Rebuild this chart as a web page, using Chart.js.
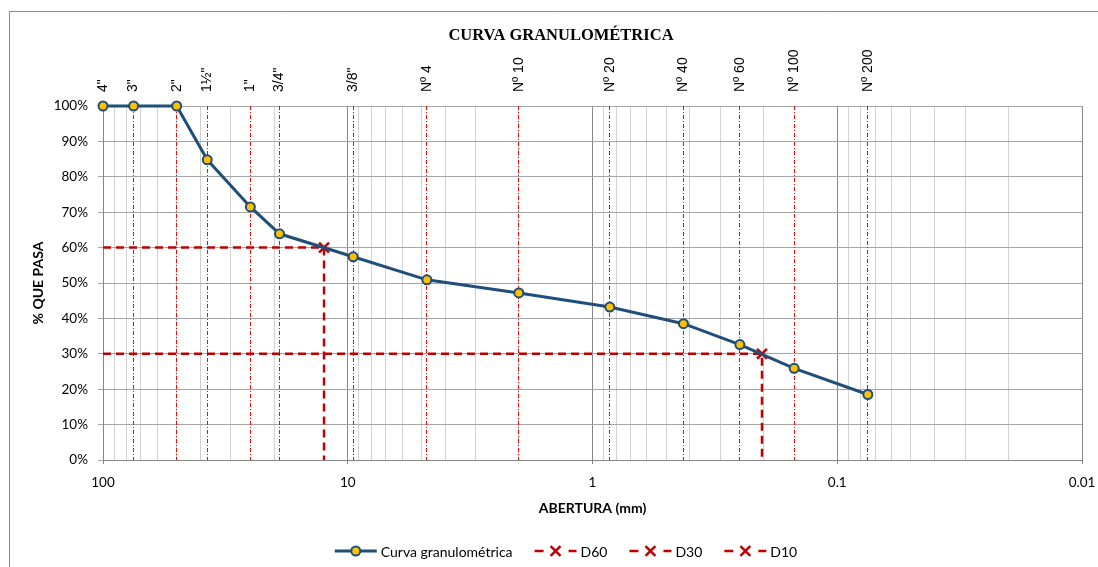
<!DOCTYPE html>
<html>
<head>
<meta charset="utf-8">
<script src="https://cdn.jsdelivr.net/npm/chart.js@4.4.1/dist/chart.umd.min.js"></script>
<style>
  body { margin: 0; background: #fff; }
</style>
</head>
<body>
<canvas id="chart" width="1098" height="567"></canvas>
<script>
const chartTitle = 'CURVA GRANULOMÉTRICA'

// sieves (top axis) and the grading curve
const sieveLabels = ['4"', '3"', '2"', '1½"', '1"', '3/4"', '3/8"', 'Nº 4', 'Nº 10', 'Nº 20', 'Nº 40', 'Nº 60', 'Nº 100', 'Nº 200']
const sieveOpenings = [100, 75, 50, 37.5, 25, 19, 9.5, 4.75, 2.0, 0.85, 0.425, 0.25, 0.15, 0.075]
const percentPassing = [100, 100, 100, 84.8, 71.5, 63.9, 57.4, 50.9, 47.2, 43.2, 38.5, 32.6, 25.9, 18.5]

// D60 / D30 / D10 guide lines
const d60X = [100, 12.5, 12.5]
const d60Y = [60, 60, 0]
const d30X = [100, 0.203, 0.203]
const d30Y = [30, 30, 0]
const d10X = []
const d10Y = []

// axis ticks
const xTickValues = [100, 10, 1, 0.1, 0.01]
const yTickValues = [0, 10, 20, 30, 40, 50, 60, 70, 80, 90, 100]

const blue = '#1F4E79'
const red = '#C00000'
const orange = '#FFC000'

const toXY = (xs, ys) => xs.map((x, i) => ({ x: x, y: ys[i] }))
const isDecade = v => xTickValues.some(t => Math.abs(t - v) / t < 1e-6)

// minor grid at 1..9 x 10^n
let gridValues = []
for (let e = -2; e <= 1; e++) {
    for (let k = 1; k <= 9; k++) gridValues.push(k * Math.pow(10, e))
}
gridValues.push(100)

function guideLine(label, xs, ys) {
    return {
        label: label,
        data: toXY(xs, ys),
        borderColor: red,
        borderWidth: 2.5,
        borderDash: [8, 5],
        pointStyle: 'crossRot',
        pointRadius: [0, 7, 0],
        pointBorderWidth: 2.5,
        pointBorderColor: red,
        pointBackgroundColor: red
    }
}

const frame = {
    id: 'frame',
    afterDraw(chart) {
        const ctx = chart.ctx
        ctx.save()

        // outer border of the chart box
        ctx.strokeStyle = '#8a8a8a'
        ctx.lineWidth = 1
        ctx.beginPath()
        ctx.moveTo(9.5, chart.height)
        ctx.lineTo(9.5, 11.5)
        ctx.lineTo(chart.width, 11.5)
        ctx.stroke()

        // title
        ctx.fillStyle = '#000'
        ctx.font = 'bold 16.5px "Liberation Serif"'
        ctx.textAlign = 'center'
        ctx.textBaseline = 'middle'
        ctx.fillText(chartTitle, 561, 36)

        // legend (line + marker like the spreadsheet)
        ctx.font = '14px Lato'
        ctx.textAlign = 'left'
        const sym = 42, gap = 22, y = 551
        const items = chart.data.datasets.map(ds => ({ ds: ds, w: sym + 4 + ctx.measureText(ds.label).width }))
        const total = items.reduce((a, it) => a + it.w, 0) + gap * (items.length - 1)
        let x = 566 - total / 2
        items.forEach(({ ds, w }) => {
            ctx.strokeStyle = ds.borderColor
            ctx.lineWidth = ds.borderWidth
            ctx.setLineDash([])
            ctx.beginPath()
            if (ds.borderDash) {
                ctx.moveTo(x, y); ctx.lineTo(x + 9, y)
                ctx.moveTo(x + 34, y); ctx.lineTo(x + 42, y)
            } else {
                ctx.moveTo(x, y); ctx.lineTo(x + sym, y)
            }
            ctx.stroke()
            const r = Array.isArray(ds.pointRadius) ? Math.max(...ds.pointRadius) : ds.pointRadius
            ctx.fillStyle = ds.pointBackgroundColor
            ctx.strokeStyle = ds.pointBorderColor
            ctx.lineWidth = ds.pointBorderWidth
            Chart.helpers.drawPoint(ctx, { pointStyle: ds.pointStyle || 'circle', rotation: 0, radius: r, borderWidth: ds.pointBorderWidth }, x + 21, y)
            ctx.fillStyle = '#000'
            ctx.fillText(ds.label, x + sym + 4, y + 1)
            x += w + gap
        })
        ctx.restore()
    }
}

new Chart(document.getElementById('chart'), {
    type: 'line',
    data: {
        datasets: [
            {
                label: 'Curva granulométrica',
                data: toXY(sieveOpenings, percentPassing),
                clip: false,
                borderColor: blue,
                borderWidth: 3,
                pointStyle: 'circle',
                pointRadius: 4.5,
                pointBorderWidth: 2,
                pointBackgroundColor: orange,
                pointBorderColor: blue
            },
            guideLine('D60', d60X, d60Y),
            guideLine('D30', d30X, d30Y),
            guideLine('D10', d10X, d10Y)
        ]
    },
    options: {
        responsive: false,
        animation: false,
        events: [],
        layout: { padding: { left: 0, right: 16, top: 0, bottom: 47 } },
        plugins: { legend: { display: false }, tooltip: { enabled: false }, title: { display: false } },
        scales: {
            x: {
                type: 'logarithmic',
                position: 'bottom',
                reverse: true,
                min: 0.01,
                max: 100,
                afterBuildTicks: s => { s.ticks = gridValues.map(v => ({ value: v })) },
                afterFit: s => { s.height = 60 },
                grid: {
                    color: c => (c.tick && isDecade(c.tick.value)) ? '#868686' : '#d0d0d0',
                    tickColor: c => (c.tick && isDecade(c.tick.value)) ? '#868686' : 'rgba(0,0,0,0)',
                    tickLength: 4
                },
                border: { color: '#868686' },
                ticks: {
                    autoSkip: false,
                    maxRotation: 0,
                    padding: 11,
                    color: '#000',
                    font: { family: 'Lato', size: 13.5 },
                    callback: v => isDecade(v) ? String(xTickValues.find(t => Math.abs(t - v) / t < 1e-6)) : ''
                },
                title: {
                    display: true,
                    text: 'ABERTURA (mm)',
                    color: '#000',
                    font: { family: 'Lato', size: 14, weight: 'bold' },
                    padding: { top: 0, bottom: 3 }
                }
            },
            y: {
                min: 0,
                max: 100,
                afterBuildTicks: s => { s.ticks = yTickValues.map(v => ({ value: v })) },
                afterFit: s => { s.width = 103 },
                grid: { color: '#a6a6a6', tickLength: 5 },
                border: { color: '#868686' },
                ticks: {
                    padding: 10,
                    color: '#000',
                    font: { family: 'Lato', size: 13.5 },
                    callback: v => v + '%'
                },
                title: {
                    display: true,
                    text: '% QUE PASA',
                    color: '#000',
                    font: { family: 'Lato', size: 14, weight: 'bold' },
                    padding: { top: 30, bottom: 0 }
                }
            },
            x2: {
                type: 'logarithmic',
                position: 'top',
                reverse: true,
                min: 0.01,
                max: 100,
                afterBuildTicks: s => { s.ticks = sieveOpenings.map(v => ({ value: v })) },
                afterFit: s => { s.height = 106 },
                grid: { color: '#ff0000', lineWidth: 1, drawTicks: false },
                border: { display: false, dash: [4, 2, 1, 2] },
                ticks: {
                    autoSkip: false,
                    minRotation: 90,
                    maxRotation: 90,
                    padding: 14,
                    labelOffset: 16.8,
                    color: '#000',
                    font: { family: 'Liberation Sans', size: 14 },
                    callback: (v, i) => sieveLabels[i]
                }
            }
        }
    },
    plugins: [frame]
})
</script>
</body>
</html>
